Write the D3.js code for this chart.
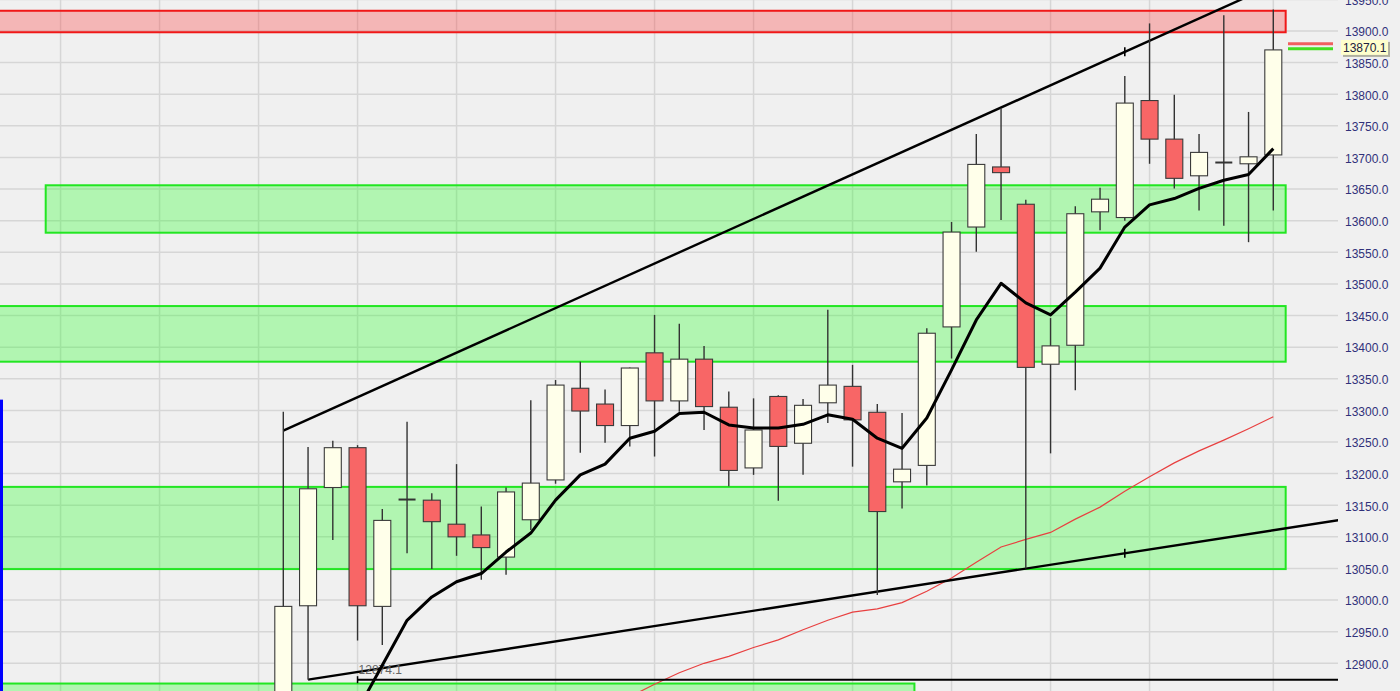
<!DOCTYPE html>
<html><head><meta charset="utf-8">
<script src="https://cdn.jsdelivr.net/npm/d3@7"></script>
<style>html,body{margin:0;padding:0;background:#f0f0f0;overflow:hidden}</style>
</head><body>
<svg id="chart" width="1400" height="691"></svg>
<script>
// ---- data ----
const opens  = [12830,12991,13178,13241,12990,13159,13158,13120,13103,13068,13127,13190,13335,13310,13276,13391,13315,13381,13305,13209,13322,13248,13312,13338,13297,13187,13213,13432,13590,13685,13626,13373,13403,13614,13605,13790,13729,13671,13692,13690,13704];
const highs  = [13298,13242,13252,13245,13144,13282,13169,13215,13148,13178,13316,13348,13377,13333,13368,13451,13437,13402,13330,13319,13324,13318,13459,13372,13310,13296,13430,13598,13737,13778,13633,13446,13623,13652,13829,13912,13799,13737,13925,13772,13934];
const lows   = [12800,12874.1,13095,12936,12929,13074,13049,13070,13032,13040,13111,13184,13233,13249,13243,13227,13298,13269,13180,13198,13157,13198,13280,13211,13008,13145,13181,13382,13551,13601,13050,13232,13332,13585,13600,13690,13651,13616,13592,13566,13616];
const closes = [12990,13176,13241,12991,13126,13159,13124,13100,13083,13171,13185,13340,13299,13276,13367,13315,13381,13306,13205,13269,13243,13308,13340,13285,13140,13207,13422,13582,13689,13676,13368,13402,13611,13634,13786,13729,13667,13708,13692,13701,13870.1];

const maBlackStart = 3;
const maBlack = [12826,12897,12968,13005,13029,13042,13076,13106,13158,13198,13215,13256,13267,13295,13297,13277,13272,13272,13278,13293,13286,13256,13240,13288,13364,13443,13501,13470,13451,13487,13525,13590,13625,13635,13651,13664,13673,13714];

const maRedStart = 13;
const maRed = [12827,12847,12867,12885,12900,12911,12925,12937,12953,12968,12981,12986,12996,13014,13035,13060,13084,13096,13107,13128,13147,13172,13195,13217,13236,13253,13271,13290];

const gridValues = [12850,12900,12950,13000,13050,13100,13150,13200,13250,13300,13350,13400,13450,13500,13550,13600,13650,13700,13750,13800,13850,13900,13950];
const yTickLabels = [12900,12950,13000,13050,13100,13150,13200,13250,13300,13350,13400,13450,13500,13550,13600,13650,13700,13750,13800,13850,13900,13950];
const vGridIndex = [-13,-9,-5,-1,3,7,11,15,19,23,27,31,35,40];

const zoneLow   = [13898, 13581, 13377, 13049, 12780];
const zoneHigh  = [13932, 13656, 13465, 13179, 12868];
const zoneFrom  = [-20, -9.6, -20, -20, -20];
const zoneTo    = [40.5, 40.5, 40.5, 40.5, 25.5];
const zoneKind  = ['red','green','green','green','green'];

const upperTrend = {i0:0, v0:13268, i1:34, v1:13867};
const lowerTrend = {i0:1, v0:12874.1, i1:34, v1:13074};
const levelValue = 12874.1, levelFrom = 3, levelLabel = '12874.1';
const blueBarTop = 13317;
const lastPrice = 13870.1, lastPriceLabel = '13870.1';
const bidMarker = 13880, askMarker = 13872;

// ---- layout ----
const W = 1400, H = 691, plotRight = 1338;
const svg = d3.select('#chart');
const x = d3.scaleLinear().domain([0, 40]).range([283.3, 1273.3]);
const y = d3.scaleLinear().domain([12900, 13900]).range([663.3, 31]);
const font = "'Liberation Sans', Arial, sans-serif";

svg.append('rect').attr('width', W).attr('height', H).attr('fill', '#f0f0f0');
svg.append('defs').append('clipPath').attr('id', 'plotClip')
  .append('rect').attr('x', 0).attr('y', 0).attr('width', plotRight).attr('height', H);
const plot = svg.append('g').attr('clip-path', 'url(#plotClip)');

// grid
plot.append('g').selectAll('line').data(gridValues).join('line')
  .attr('x1', 0).attr('x2', plotRight)
  .attr('y1', d => y(d)).attr('y2', d => y(d))
  .attr('stroke', '#d6d6d6').attr('stroke-width', 1.5);
plot.append('g').selectAll('line').data(vGridIndex).join('line')
  .attr('x1', d => x(d)).attr('x2', d => x(d))
  .attr('y1', 0).attr('y2', H)
  .attr('stroke', '#d6d6d6').attr('stroke-width', 1.5);

// zones
const zones = zoneLow.map((lo, k) => ({lo, hi: zoneHigh[k], from: zoneFrom[k], to: zoneTo[k], kind: zoneKind[k]}));
plot.append('g').selectAll('rect').data(zones).join('rect')
  .attr('x', d => x(d.from)).attr('width', d => x(d.to) - x(d.from))
  .attr('y', d => y(d.hi)).attr('height', d => y(d.lo) - y(d.hi))
  .attr('fill', d => d.kind === 'red' ? 'rgba(255,50,50,0.3)' : 'rgba(50,255,50,0.33)')
  .attr('stroke', d => d.kind === 'red' ? '#f01818' : '#22e622')
  .attr('stroke-width', 2);

// red moving average
const redPts = maRed.map((v, k) => [maRedStart + k, v]);
plot.append('path').datum(redPts)
  .attr('d', d3.line().x(d => x(d[0])).y(d => y(d[1])))
  .attr('fill', 'none').attr('stroke', '#e84040').attr('stroke-width', 1.2);

// trend lines
function trendPath(t, extendTo) {
  const slope = (t.v1 - t.v0) / (t.i1 - t.i0);
  return [[t.i0, t.v0], [extendTo, t.v0 + slope * (extendTo - t.i0)]];
}
const rightIndex = x.invert(plotRight + 5);
[upperTrend, lowerTrend].forEach(t => {
  const pts = trendPath(t, rightIndex);
  plot.append('line')
    .attr('x1', x(pts[0][0])).attr('y1', y(pts[0][1]))
    .attr('x2', x(pts[1][0])).attr('y2', y(pts[1][1]))
    .attr('stroke', '#000').attr('stroke-width', 2.4);
  plot.append('line')
    .attr('x1', x(t.i1)).attr('x2', x(t.i1))
    .attr('y1', y(t.v1) - 4.5).attr('y2', y(t.v1) + 4.5)
    .attr('stroke', '#000').attr('stroke-width', 1.6);
});

// horizontal level
plot.append('line')
  .attr('x1', x(levelFrom)).attr('x2', plotRight)
  .attr('y1', y(levelValue)).attr('y2', y(levelValue))
  .attr('stroke', '#000').attr('stroke-width', 2);
plot.append('line')
  .attr('x1', x(levelFrom)).attr('x2', x(levelFrom))
  .attr('y1', y(levelValue) - 3.5).attr('y2', y(levelValue) + 3.5)
  .attr('stroke', '#000').attr('stroke-width', 1.5);
plot.append('text')
  .attr('x', x(levelFrom) + 1).attr('y', y(levelValue) - 5.5)
  .attr('font-family', font).attr('font-size', 12).attr('fill', '#666')
  .text(levelLabel);

// candles
const candles = opens.map((o, i) => ({i, o, h: highs[i], l: lows[i], c: closes[i]}));
const cg = plot.append('g');
cg.selectAll('line.wick').data(candles).join('line').attr('class', 'wick')
  .attr('x1', d => x(d.i)).attr('x2', d => x(d.i))
  .attr('y1', d => y(d.h)).attr('y2', d => y(d.l))
  .attr('stroke', '#333').attr('stroke-width', 1.4);
const bodyW = 17;
cg.selectAll('rect.body').data(candles.filter(d => d.o !== d.c)).join('rect').attr('class', 'body')
  .attr('x', d => x(d.i) - bodyW / 2).attr('width', bodyW)
  .attr('y', d => y(Math.max(d.o, d.c)))
  .attr('height', d => Math.abs(y(d.o) - y(d.c)))
  .attr('fill', d => d.c > d.o ? '#ffffea' : '#f86666')
  .attr('stroke', '#3a3a3a').attr('stroke-width', 1.1);
cg.selectAll('line.doji').data(candles.filter(d => d.o === d.c)).join('line').attr('class', 'doji')
  .attr('x1', d => x(d.i) - bodyW / 2).attr('x2', d => x(d.i) + bodyW / 2)
  .attr('y1', d => y(d.c)).attr('y2', d => y(d.c))
  .attr('stroke', '#333').attr('stroke-width', 2);

// black moving average
const blackPts = maBlack.map((v, k) => [maBlackStart + k, v]);
plot.append('path').datum(blackPts)
  .attr('d', d3.line().x(d => x(d[0])).y(d => y(d[1])))
  .attr('fill', 'none').attr('stroke', '#000').attr('stroke-width', 3)
  .attr('stroke-linejoin', 'round');

// blue bar at left
plot.append('rect').attr('x', 0).attr('width', 3)
  .attr('y', y(blueBarTop)).attr('height', H - y(blueBarTop))
  .attr('fill', '#0000ff');

// y axis labels
const yAxis = d3.axisRight(y).tickValues(yTickLabels).tickFormat(d3.format('.1f')).tickSize(0).tickPadding(7);
const ag = svg.append('g').attr('transform', `translate(${plotRight},1)`).call(yAxis);
ag.select('.domain').remove();
ag.selectAll('text').attr('font-family', font).attr('font-size', 12).attr('fill', '#30307a');

// bid / ask markers
svg.append('line').attr('x1', 1288).attr('x2', 1333).attr('y1', y(bidMarker)).attr('y2', y(bidMarker))
  .attr('stroke', '#f06060').attr('stroke-width', 3);
svg.append('line').attr('x1', 1288).attr('x2', 1333).attr('y1', y(askMarker)).attr('y2', y(askMarker))
  .attr('stroke', '#44dd22').attr('stroke-width', 3);

// last price tag
const tagY = y(lastPrice) - 2.5;
svg.append('rect').attr('x', 1343).attr('y', tagY - 5.5).attr('width', 47).attr('height', 15).attr('fill', '#b0b0a0');
svg.append('rect').attr('x', 1341).attr('y', tagY - 7.5).attr('width', 47).attr('height', 15).attr('fill', '#ffffcc');
svg.append('text').attr('x', 1343).attr('y', tagY + 4.5)
  .attr('font-family', font).attr('font-size', 12).attr('fill', '#202040')
  .text(lastPriceLabel);
</script>
</body></html>
